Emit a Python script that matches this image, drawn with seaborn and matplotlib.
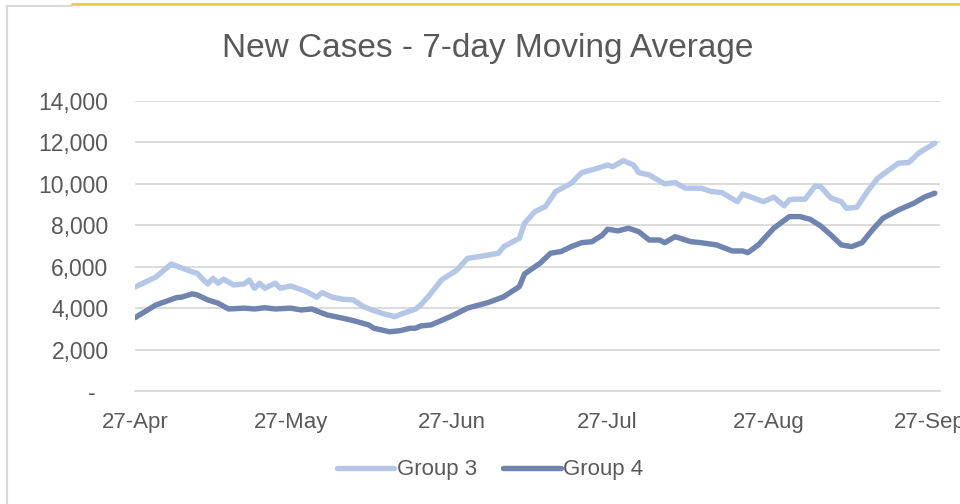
import pandas as pd
import seaborn as sns
import matplotlib.pyplot as plt
from matplotlib.ticker import FuncFormatter
from matplotlib.lines import Line2D

# data: day offsets from 27-Apr and 7-day averages
start = pd.Timestamp('2020-04-27')
g3_days = [0, 4, 7, 11, 12, 13, 14, 15, 16, 17, 19, 21, 22, 23, 24, 25, 27, 28, 30,
           33, 35, 36, 38, 40, 42, 44, 46, 48, 50, 52, 54, 55, 57, 59, 61, 62, 64,
           67, 70, 71, 74, 75, 77, 79, 81, 84, 86, 89, 91, 92, 94, 96, 97, 99, 102,
           104, 106, 109, 111, 113, 116, 117, 121, 123, 125, 126, 127, 129, 131, 132,
           134, 136, 137, 139, 141, 143, 147, 149, 151, 154]
g3_cases = [5020, 5500, 6130, 5750, 5680, 5400, 5170, 5440, 5200, 5400, 5120, 5170, 5360,
            4960, 5200, 4960, 5200, 4960, 5070, 4800, 4530, 4750, 4530, 4430, 4400, 4070,
            3880, 3720, 3590, 3780, 3950, 4150, 4720, 5360, 5680, 5840, 6400, 6520, 6650,
            6970, 7370, 8100, 8660, 8900, 9630, 10030, 10540, 10750, 10910, 10830, 11120,
            10910, 10540, 10430, 10000, 10060, 9790, 9790, 9630, 9580, 9140, 9510, 9140,
            9360, 8940, 9230, 9260, 9260, 9900, 9870, 9310, 9140, 8820, 8870, 9630, 10270,
            11000, 11030, 11510, 11960]
g4_days = [0, 4, 5, 8, 9, 11, 12, 14, 16, 18, 21, 23, 25, 27, 30, 32, 34, 37, 38, 41,
           42, 45, 46, 49, 51, 53, 54, 55, 57, 61, 64, 68, 71, 74, 75, 78, 80, 82, 84,
           86, 88, 90, 91, 93, 95, 97, 99, 101, 102, 104, 107, 109, 112, 115, 117, 118,
           120, 123, 126, 128, 130, 132, 134, 136, 138, 140, 142, 144, 147, 150, 152, 154]
g4_cases = [3540, 4150, 4240, 4510, 4530, 4690, 4640, 4400, 4240, 3960, 4000, 3960, 4020,
            3960, 4000, 3910, 3960, 3670, 3620, 3460, 3400, 3190, 3030, 2860, 2910, 3030,
            3030, 3140, 3190, 3620, 4000, 4270, 4550, 5040, 5650, 6170, 6650, 6730, 6970,
            7160, 7210, 7530, 7810, 7730, 7860, 7690, 7290, 7290, 7160, 7450, 7210, 7160,
            7050, 6760, 6760, 6680, 7050, 7860, 8420, 8420, 8290, 7970, 7530, 7050, 6970,
            7160, 7780, 8340, 8740, 9070, 9360, 9550]
tick_dates = ['2020-04-27', '2020-05-27', '2020-06-27', '2020-07-27', '2020-08-27', '2020-09-27']
tick_labels = ['27-Apr', '27-May', '27-Jun', '27-Jul', '27-Aug', '27-Sep']

df = pd.concat([
    pd.DataFrame({'date': start + pd.to_timedelta(g3_days, unit='D'), 'cases': g3_cases, 'group': 'Group 3'}),
    pd.DataFrame({'date': start + pd.to_timedelta(g4_days, unit='D'), 'cases': g4_cases, 'group': 'Group 4'}),
])

sns.set_style('white')
plt.rcParams['font.family'] = ['Liberation Sans', 'DejaVu Sans']
grey = '#595959'

fig = plt.figure(figsize=(9.6, 5.04), dpi=100)
ax = fig.add_axes([135 / 960, 1 - 391 / 504, 805 / 960, 290 / 504])

sns.lineplot(data=df, x='date', y='cases', hue='group',
             palette={'Group 3': '#b4c7e7', 'Group 4': '#7084b0'},
             linewidth=3.9, ax=ax, solid_capstyle='round')

ax.set_ylim(0, 14000)
ax.set_xlim(start, start + pd.Timedelta(days=155))
ax.set_yticks(range(0, 14001, 2000))
ax.yaxis.set_major_formatter(FuncFormatter(lambda v, p: '-  ' if v == 0 else f'{v:,.0f}'))
ax.set_xticks(pd.to_datetime(tick_dates))
ax.set_xticklabels(tick_labels)
ax.grid(axis='y', color='#d9d9d9', linewidth=1.3)
ax.set_axisbelow(True)
for s in ['top', 'right', 'left']:
    ax.spines[s].set_visible(False)
ax.spines['bottom'].set_color('#d9d9d9')
ax.spines['bottom'].set_linewidth(1.3)
ax.tick_params(axis='y', length=0, pad=19, labelsize=16.5, labelcolor=grey)
ax.tick_params(axis='x', length=5, width=1.3, color='#d9d9d9', pad=10, labelsize=16, labelcolor=grey)
ax.set_xlabel('')
ax.set_ylabel('')

sns.move_legend(ax, 'center', bbox_to_anchor=(0.441, -0.272), ncol=2, frameon=False,
                title=None, fontsize=16, handlelength=2.6, handletextpad=0.1, columnspacing=1.2)
for t in ax.get_legend().get_texts():
    t.set_color(grey)

fig.text(488 / 960, 1 - 48 / 504, 'New Cases - 7-day Moving Average', ha='center', va='center',
         fontsize=24, color=grey)

# chart frame bits
fig.add_artist(Line2D([7 / 960, 7 / 960], [0, 1 - 6 / 504], transform=fig.transFigure, color='#d9d9d9', lw=1.5))
fig.add_artist(Line2D([7 / 960, 72 / 960], [1 - 6 / 504, 1 - 6 / 504], transform=fig.transFigure, color='#d9d9d9', lw=1.5))
fig.add_artist(Line2D([72 / 960, 1], [1 - 4 / 504, 1 - 4 / 504], transform=fig.transFigure, color='#f4c842', lw=2))

fig.savefig('out.png', dpi=100)
